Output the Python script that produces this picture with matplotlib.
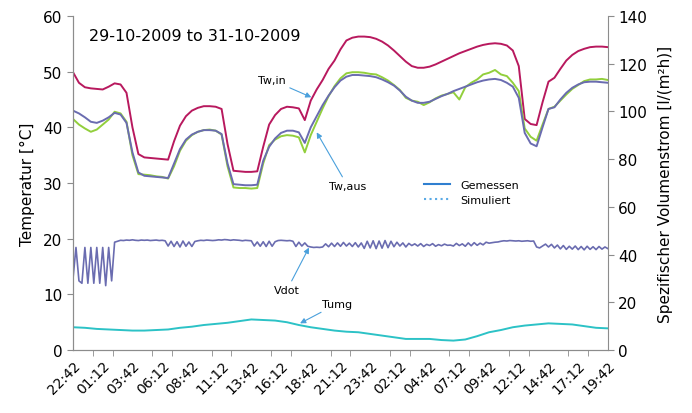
import numpy as np
import matplotlib
matplotlib.use("Agg")
import matplotlib.pyplot as plt
from matplotlib.lines import Line2D

# time axis labels (every 2.5 h from 22:42 on 29-10-2009)
tick_labels = ["22:42", "01:12", "03:42", "06:12", "08:42", "11:12", "13:42",
               "16:12", "18:42", "21:12", "23:42", "02:12", "04:42", "07:12",
               "09:42", "12:12", "14:42", "17:12", "19:42"]

# Tw,in [degC], every 0.5 h
tw_in = [49.9, 48.0, 47.2, 47.0, 46.9, 46.8, 47.3, 47.9, 47.7, 46.2,
         40.0, 35.2, 34.6, 34.5, 34.4, 34.3, 34.2, 37.5, 40.3, 42.0,
         43.0, 43.5, 43.8, 43.8, 43.7, 43.3, 37.0, 32.2, 32.1, 32.0,
         32.0, 32.1, 36.5, 40.5, 42.2, 43.3, 43.7, 43.6, 43.4, 41.3,
         44.8, 46.8, 48.5, 50.5, 52.0, 54.0, 55.6, 56.1, 56.3, 56.3,
         56.2, 55.9, 55.4, 54.7, 53.8, 52.8, 51.8, 51.0, 50.7, 50.7,
         50.9, 51.3, 51.8, 52.3, 52.8, 53.3, 53.7, 54.1, 54.5, 54.8,
         55.0, 55.1, 55.0, 54.7, 53.8, 51.0, 41.5, 40.6, 40.4, 44.5,
         48.2, 48.9, 50.5, 52.0, 53.0, 53.7, 54.1, 54.4, 54.5, 54.5,
         54.4]

# Tw,aus simuliert [degC], every 0.5 h
tw_aus_sim = [43.0, 42.5, 41.8, 41.0, 40.8, 41.2, 41.8, 42.6, 42.3, 40.8,
              35.5, 31.9, 31.3, 31.2, 31.1, 31.0, 30.9, 33.5, 36.1, 37.8,
              38.7, 39.2, 39.5, 39.5, 39.4, 38.8, 33.5, 29.8, 29.7, 29.6,
              29.6, 29.7, 34.0, 36.5, 38.0, 39.0, 39.4, 39.4, 39.1, 37.2,
              40.0, 42.0, 44.0, 45.7, 47.2, 48.4, 49.1, 49.4, 49.4, 49.3,
              49.2, 49.0, 48.6, 48.1, 47.5, 46.6, 45.5, 44.8, 44.4, 44.4,
              44.6, 45.1, 45.6, 46.0, 46.5, 46.9, 47.3, 47.7, 48.1, 48.4,
              48.6, 48.7, 48.5, 48.0, 47.3, 45.3, 39.0, 37.1, 36.6, 40.0,
              43.3, 43.6, 45.0, 46.2, 47.1, 47.7, 48.1, 48.2, 48.2, 48.1,
              48.0]

# Tw,aus gemessen [degC], every 0.5 h
tw_aus_mes = [41.5, 40.5, 39.8, 39.2, 39.6, 40.5, 41.4, 42.8, 42.5, 41.0,
              35.0, 31.6, 31.5, 31.4, 31.2, 31.1, 30.8, 33.0, 35.8, 37.6,
              38.6, 39.2, 39.5, 39.6, 39.4, 38.7, 33.0, 29.2, 29.1, 29.1,
              29.0, 29.1, 33.5, 36.8, 37.8, 38.4, 38.6, 38.5, 38.2, 35.5,
              38.6, 41.0, 43.4, 45.6, 47.4, 48.8, 49.7, 49.9, 49.9, 49.8,
              49.6, 49.5, 49.0, 48.4, 47.6, 46.7, 45.3, 44.8, 44.6, 44.0,
              44.5, 45.2, 45.7, 46.0, 46.3, 45.0, 47.2, 48.0, 48.6, 49.5,
              49.8, 50.3, 49.5, 49.2, 48.0, 46.5, 39.8, 38.3, 37.6, 40.5,
              43.3, 43.7, 44.8, 45.9, 46.9, 47.6, 48.3, 48.6, 48.6, 48.7,
              48.5]

# Tumg [degC], every 1 h
t_umg = [4.1, 4.0, 3.8, 3.7, 3.6, 3.5, 3.5, 3.6, 3.7, 4.0,
         4.2, 4.5, 4.7, 4.9, 5.2, 5.5, 5.4, 5.3, 5.0, 4.5,
         4.1, 3.8, 3.5, 3.3, 3.2, 2.9, 2.6, 2.3, 2.0, 2.0,
         2.0, 1.8, 1.7, 1.9, 2.5, 3.2, 3.6, 4.1, 4.4, 4.6,
         4.8, 4.7, 4.6, 4.3, 4.0, 3.9]

# Vdot [l/(m2h)], every 0.25 h
vdot = [30, 43, 29, 28, 43, 28, 43, 28,
        43, 28, 43, 27, 43, 29, 45.2, 45.6,
        46.0, 45.9, 46.1, 46.0, 46.2, 46.0, 45.9, 46.1,
        46.0, 46.1, 45.9, 46.0, 46.1, 45.9, 46.0, 45.8,
        43.6, 45.6, 43.4, 45.4, 43.2, 45.7, 43.5, 45.3,
        43.4, 45.5, 45.8, 46.0, 45.9, 46.1, 46.0, 45.9,
        46.0, 46.2, 46.1, 46.3, 46.2, 46.0, 46.2, 46.1,
        46.0, 45.8, 46.0, 45.9, 45.8, 43.6, 45.3, 43.5,
        45.4, 43.4, 45.6, 43.5, 45.4, 45.9, 46.0, 45.9,
        45.8, 45.9, 45.6, 43.4, 45.2, 43.6, 44.9, 43.5,
        43.2, 43.0, 43.1, 43.0, 43.2, 44.5, 43.3, 44.8,
        43.4, 44.9, 43.5, 45.1, 43.6, 44.8, 43.4, 45.0,
        43.2, 44.9, 42.6, 45.6, 42.8, 45.8, 42.5, 45.7,
        42.7, 45.9, 42.9, 45.6, 43.3, 45.2, 43.6, 44.9,
        43.2, 44.7, 43.8, 44.5, 43.6, 44.6, 43.4, 44.3,
        43.8, 44.6, 43.5, 44.2, 43.7, 44.4, 43.9, 44.0,
        43.6, 44.7, 43.8, 44.5, 43.5, 44.9, 43.7, 45.0,
        43.9, 44.8, 44.1, 45.2, 44.8, 45.0, 45.2, 45.3,
        45.6, 45.8, 45.7, 45.9, 45.8, 45.7, 45.8, 45.6,
        45.7, 45.8, 45.6, 45.7, 43.2, 42.8, 43.6, 44.4,
        43.2, 44.3, 42.8, 44.0, 42.4, 43.8, 42.2, 43.5,
        42.3, 43.6, 42.1, 43.4, 42.0, 43.5, 42.2, 43.3,
        42.1, 43.4, 42.3, 43.2, 42.5]

span = 45.0  # hours shown

def hours(series):
    return np.linspace(0, span, len(series))

c_in = "#B8195E"
c_mes = "#92CF3C"
c_sim = "#6A6CB0"
c_umg = "#2CC2C6"
c_arrow = "#4AA0DC"
c_spine = "#8C8C8C"

plt.rcParams['font.family'] = ['DejaVu Sans']

fig = plt.figure(figsize=(6.92, 4.14), dpi=100)
ax = fig.add_axes([0.1055, 0.152, 0.773, 0.807])
ax2 = ax.twinx()

ax.plot(hours(tw_in), tw_in, color=c_in, lw=1.4)
ax.plot(hours(tw_aus_mes), tw_aus_mes, color=c_mes, lw=1.4)
ax.plot(hours(tw_aus_sim), tw_aus_sim, color=c_sim, lw=1.4)
ax.plot(hours(t_umg), t_umg, color=c_umg, lw=1.4)
ax2.plot(hours(vdot), vdot, color=c_sim, lw=1.2)

ax.set_xlim(0, span)
ax.set_ylim(0, 60)
ax2.set_ylim(0, 140)
ax.set_yticks(range(0, 61, 10))
ax2.set_yticks(range(0, 141, 20))

ax.set_xticks(np.arange(0, span + 0.01, 2.5))
ax.set_xticklabels(tick_labels, rotation=45, ha='right', rotation_mode='anchor')
ax.set_xticks(np.arange(0, span + 0.01, 5 / 3), minor=True)
ax.tick_params(axis='x', which='major', length=0, pad=6, labelsize=10)
ax.tick_params(axis='x', which='minor', length=4, color=c_spine)
ax.tick_params(axis='y', length=4, color=c_spine, labelsize=11)
ax2.tick_params(axis='y', length=4, color=c_spine, labelsize=11)

for a in (ax, ax2):
    a.spines['top'].set_visible(False)
    for s in ('left', 'right', 'bottom'):
        a.spines[s].set_color(c_spine)
ax.spines['right'].set_visible(False)

ax.set_ylabel("Temperatur [°C]", fontsize=11, labelpad=6)
ax2.set_ylabel("Spezifischer Volumenstrom [l/(m²h)]", fontsize=11, labelpad=8)

ax.text(0.03, 0.965, "29-10-2009 to 31-10-2009", transform=ax.transAxes,
        fontsize=11.5, va='top', ha='left')

arrow = dict(arrowstyle='-|>', color=c_arrow, lw=0.8, mutation_scale=8,
             shrinkA=1, shrinkB=0)
ax.annotate("Tw,in", xy=(20.05, 45.4), xytext=(17.9, 48.5), fontsize=8,
            ha='right', va='center', arrowprops=arrow)
ax.annotate("Tw,aus", xy=(20.5, 39.1), xytext=(23.1, 29.5), fontsize=8,
            ha='center', va='center', arrowprops=arrow)
ax.annotate("Vdot", xy=(19.85, 18.4), xytext=(18.0, 10.8), fontsize=8,
            ha='center', va='center', arrowprops=arrow)
ax.annotate("Tumg", xy=(19.1, 4.8), xytext=(20.95, 8.3), fontsize=8,
            ha='left', va='center', arrowprops=arrow)

handles = [Line2D([], [], color="#2F7FD0", lw=1.5),
           Line2D([], [], color="#5AAAE6", lw=1.5, ls=':')]
fig.legend(handles, ["Gemessen", "Simuliert"], loc='upper left',
           bbox_to_anchor=(0.598, 0.588), frameon=False, fontsize=8,
           handlelength=2.4, labelspacing=0.5, handletextpad=0.9)

fig.savefig("out.png", dpi=100)
